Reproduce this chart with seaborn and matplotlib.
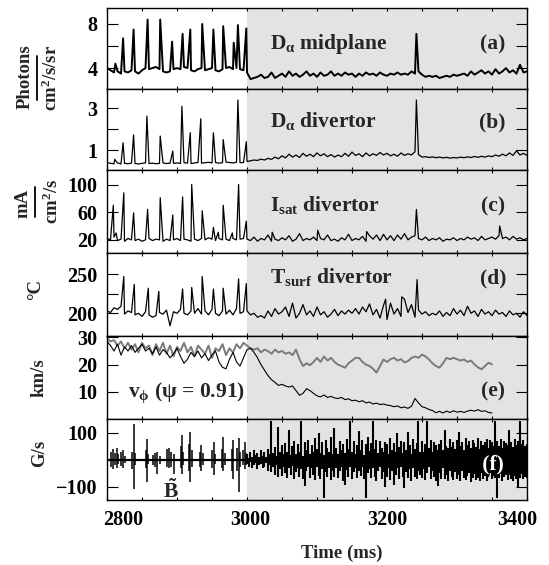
import numpy as np
import pandas as pd
import matplotlib
matplotlib.use('Agg')
import matplotlib.pyplot as plt
import matplotlib.patheffects as pe
from matplotlib.lines import Line2D
from matplotlib.ticker import MultipleLocator
from matplotlib.transforms import ScaledTranslation
import seaborn as sns

# ---- data ----
# baselines sampled every 5 ms, 2800..3400
grid_t = np.arange(2800, 3401, 5)

a_base = [4.0, 3.8, 3.6, 3.7, 3.5, 3.7, 3.6, 3.8, 3.7, 3.5, 3.8, 4.0, 3.9, 4.0, 4.1, 3.9, 3.7, 3.6, 3.7, 3.9,
          4.0, 3.9, 4.1, 4.0, 3.8, 3.7, 3.9, 4.0, 3.8, 3.9, 4.0, 3.8, 3.7, 3.9, 4.0, 4.1, 3.9, 4.0, 3.9, 3.8,
          3.6, 3.0, 3.1, 3.2, 3.4, 3.1, 3.2, 3.6, 3.1, 3.3, 3.5, 3.2, 3.7, 3.3, 3.5, 3.2, 3.4, 3.7, 3.3, 3.5,
          3.2, 3.6, 3.3, 3.4, 3.7, 3.3, 3.5, 3.3, 3.6, 3.4, 3.5, 3.2, 3.5, 3.3, 3.6, 3.4, 3.5, 3.3, 3.6, 3.4,
          3.3, 3.5, 3.4, 3.6, 3.4, 3.5, 3.4, 3.7, 3.5, 3.7, 3.4, 3.2, 3.3, 3.2, 3.3, 3.1, 3.2, 3.3, 3.2, 3.4,
          3.3, 3.4, 3.5, 3.3, 3.7, 3.4, 3.6, 3.8, 3.5, 3.7, 3.4, 3.9, 3.5, 3.7, 4.0, 3.6, 3.8, 3.5, 4.3, 3.6, 3.7]
a_spike_t = [2812, 2823, 2838, 2858, 2876, 2893, 2908, 2919, 2936, 2952, 2966, 2981, 2987, 2999, 3242]
a_spike_v = [4.4, 6.7, 7.5, 8.4, 8.4, 6.4, 7.1, 7.5, 8.0, 7.5, 7.8, 6.3, 7.9, 7.6, 7.1]

b_base = [0.40, 0.36, 0.34, 0.38, 0.33, 0.36, 0.34, 0.37, 0.35, 0.33, 0.36, 0.38, 0.35, 0.37, 0.34, 0.36, 0.38, 0.35, 0.37, 0.36,
          0.38, 0.36, 0.39, 0.37, 0.35, 0.38, 0.40, 0.37, 0.39, 0.41, 0.38, 0.40, 0.37, 0.39, 0.42, 0.40, 0.38, 0.41, 0.39, 0.40,
          0.45, 0.48, 0.52, 0.50, 0.56, 0.52, 0.60, 0.55, 0.66, 0.58, 0.72, 0.62, 0.80, 0.66, 0.76, 0.64, 0.84, 0.70, 0.80, 0.68,
          0.86, 0.72, 0.82, 0.68, 0.78, 0.66, 0.76, 0.68, 0.84, 0.70, 0.90, 0.74, 0.82, 0.68, 0.86, 0.72, 0.82, 0.74, 0.88, 0.76,
          0.84, 0.72, 0.80, 0.70, 0.86, 0.74, 0.82, 0.76, 0.92, 0.78, 0.66, 0.68, 0.64, 0.67, 0.63, 0.66, 0.62, 0.65, 0.61, 0.64,
          0.62, 0.66, 0.63, 0.67, 0.64, 0.69, 0.65, 0.70, 0.66, 0.72, 0.68, 0.76, 0.70, 0.80, 0.72, 0.86, 0.74, 0.96, 0.76, 0.84, 0.74]
b_spike_t = [2811, 2823, 2838, 2857, 2876, 2894, 2907, 2919, 2934, 2952, 2966, 2987, 2999, 3242]
b_spike_v = [0.55, 1.35, 1.72, 2.63, 1.67, 0.95, 3.1, 1.83, 2.5, 1.83, 1.5, 3.4, 1.4, 3.4]

c_base = [22, 20, 24, 19, 21, 18, 22, 20, 19, 21, 18, 20, 22, 19, 21, 20, 18, 21, 19, 20,
          22, 19, 21, 20, 18, 21, 19, 22, 20, 23, 21, 19, 22, 20, 21, 19, 22, 20, 21, 22,
          21, 19, 24, 18, 22, 20, 27, 18, 21, 19, 23, 20, 26, 18, 21, 29, 19, 22, 20, 24,
          19, 22, 20, 27, 19, 21, 18, 23, 20, 28, 19, 22, 20, 25, 18, 26, 21, 27, 19, 28,
          20, 26, 19, 27, 21, 29, 20, 24, 26, 22, 20, 24, 19, 22, 20, 23, 18, 21, 20, 23,
          19, 22, 20, 24, 21, 23, 19, 25, 20, 22, 24, 21, 26, 22, 24, 20, 25, 21, 23, 20, 22]
c_spike_t = [2809, 2813, 2824, 2838, 2858, 2876, 2894, 2908, 2921, 2936, 2952, 2959, 2966, 2979, 2988, 2999,
             3036, 3101, 3171, 3242, 3361]
c_spike_v = [70, 30, 88, 59, 64, 81, 56, 82, 100, 62, 38, 31, 70, 30, 100, 47, 31, 34, 32, 64, 40]

d_base = [203, 201, 207, 205, 209, 199, 203, 201, 198, 200, 196, 202, 198, 195, 197, 201, 199, 204, 184, 202,
          200, 205, 200, 198, 203, 200, 206, 199, 203, 198, 205, 200, 197, 203, 199, 204, 198, 206, 200, 202,
          203, 198, 200, 195, 197, 194, 203, 196, 206, 199, 202, 208, 196, 213, 194, 200, 211, 198, 203, 196,
          208, 198, 202, 195, 199, 205, 197, 203, 199, 204, 200, 206, 199, 208, 202, 212, 198, 205, 194, 210,
          192, 213, 199, 206, 196, 218, 201, 211, 195, 204, 199, 202, 197, 200, 198, 203, 196, 201, 197, 206,
          199, 204, 197, 209, 200, 203, 196, 205, 199, 202, 197, 204, 199, 201, 196, 203, 198, 200, 195, 202, 197]
d_spike_t = [2824, 2839, 2859, 2874, 2908, 2921, 2936, 2952, 2966, 2988, 2999, 3198, 3221, 3243]
d_spike_v = [247, 237, 232, 228, 231, 233, 247, 231, 232, 244, 238, 218, 221, 243]

# rotation v_phi, 5 ms steps 2800..3350
e_t = np.arange(2800, 3351, 5)
e_gray = [29.5, 28.5, 29, 27, 28.5, 26, 28, 25.5, 27.5, 24.5,
          28, 26, 27, 23.5, 27.5, 25, 28, 24, 27, 23,
          26.5, 25, 28, 24.5, 26.5, 23, 27, 25.5, 24, 27,
          22.5, 26, 25, 27.5, 23.5, 26, 24.5, 27.5, 26, 28,
          27, 26, 25.5, 26, 24.5, 25.5, 25, 24, 25.5, 24.5,
          25, 24, 24.5, 23.5, 25.5, 22, 19.5, 20.5, 19.8, 21,
          22.5, 21, 23, 21.5, 22.5, 21, 20, 19.5, 18.9, 20.5,
          21.5, 22.5, 22.5, 21, 20, 19.5, 18.5, 17.1, 19.5, 21.9,
          21, 22, 22.5, 21.5, 22, 20.8, 21.3, 22.5, 23, 22.5,
          23.7, 23, 21.9, 20.5, 19.5, 18.9, 20.5, 22.5, 22, 22.5,
          22, 21.5, 21.9, 21, 21.5, 20.1, 19, 18.3, 19.5, 20.7,
          20.1]
e_black = [28.5, 27, 25, 27.5, 23.5, 26.5, 25, 27, 24.5, 26,
           27.5, 25, 26, 24, 26.5, 23.5, 25.5, 24.5, 22.5, 24,
           26, 23, 20.5, 22, 24.5, 23, 25, 22.5, 24, 21.5,
           23.5, 25, 21, 19, 18.5, 22, 24.5, 21, 19.5, 22.5,
           25.5, 26, 24.5, 22.5, 20, 18, 16, 14.5, 13.5, 12.4,
           12.8, 12.2, 11.8, 12.2, 10.5, 8.8, 9.5, 11.2, 10.5, 9.5,
           8.6, 8.2, 8.9, 8.0, 8.4, 7.8, 7.6, 8.0, 7.2, 7.5,
           6.8, 7.0, 6.4, 6.8, 6.0, 6.3, 5.6, 5.9, 5.4, 5.6,
           5.2, 5.0, 4.6, 4.9, 4.2, 4.5, 4.0, 4.8, 7.6, 6.0,
           4.6, 4.2, 3.6, 3.2, 2.4, 2.9, 2.3, 3.0, 2.5, 3.1,
           2.6, 2.9, 2.5, 3.0, 3.3, 3.0, 3.5, 2.9, 3.1, 2.5,
           2.3]

# B-dot: ELM bursts before 3000 (max / min per burst line)
f_burst_t = [2806, 2809, 2811, 2814, 2816, 2820, 2823, 2825, 2836, 2838, 2840, 2855, 2857, 2859, 2866,
             2869, 2872, 2875, 2886, 2889, 2892, 2895, 2905, 2907, 2909, 2917, 2919, 2921, 2933, 2935,
             2937, 2950, 2953, 2955, 2964, 2966, 2968, 2978, 2980, 2986, 2988, 2990, 2995, 2997, 2999]
f_burst_hi = [30, 40, 25, 44, 20, 28, 36, 15, 30, 133, 25, 35, 78, 20, 18,
              25, 30, 15, 40, 45, 30, 20, 50, 90, 30, 60, 102, 35, 30, 53,
              25, 35, 65, 20, 40, 84, 25, 40, 72, 45, 80, 30, 35, 65, 25]
f_burst_lo = [-25, -35, -20, -31, -15, -22, -30, -12, -35, -107, -20, -30, -83, -15, -20,
              -25, -52, -15, -28, -30, -25, -52, -30, -52, -20, -40, -83, -25, -25, -40,
              -20, -30, -58, -15, -30, -40, -20, -40, -70, -40, -120, -25, -20, -35, -20]
# B-dot after 3000: envelope per 2.5 ms bin
f_t = np.arange(3000, 3400.1, 2.5)
f_hi = [22, 8, 30, 12, 35, 18, 26, 10, 38, 15,
        28, 12, 40, 20, 145, 25, 48, 15, 120, 30,
        55, 20, 62, 28, 112, 18, 50, 70, 22, 58,
        30, 145, 15, 66, 35, 72, 20, 55, 28, 80,
        40, 100, 25, 64, 18, 75, 42, 30, 85, 22,
        118, 45, 20, 70, 35, 60, 25, 78, 40, 145,
        30, 68, 22, 55, 108, 38, 72, 18, 60, 85,
        32, 62, 145, 40, 75, 25, 70, 45, 28, 66,
        58, 20, 80, 35, 62, 30, 98, 48, 70, 25,
        66, 35, 104, 55, 22, 78, 40, 62, 145, 30,
        70, 28, 60, 145, 45, 75, 30, 64, 55, 38,
        60, 72, 35, 110, 50, 42, 78, 48, 66, 40,
        72, 102, 50, 66, 38, 80, 55, 70, 45, 75,
        62, 48, 82, 40, 70, 55, 66, 78, 45, 74,
        65, 50, 145, 68, 52, 76, 44, 70, 62, 55,
        110, 66, 48, 78, 56, 70, 145, 58, 74, 50,
        60]
f_lo = [-15, -28, -10, -32, -18, -12, -36, -20, -14, -30,
        -25, -12, -40, -20, -45, -28, -55, -18, -62, -35,
        -60, -25, -50, -68, -30, -58, -22, -70, -45, -30,
        -62, -35, -72, -98, -40, -25, -66, -30, -58, -75,
        -28, -60, -70, -35, -140, -45, -65, -30, -75, -40,
        -62, -30, -68, -42, -25, -78, -95, -38, -64, -28,
        -70, -45, -30, -66, -40, -60, -25, -72, -142, -48,
        -35, -68, -30, -62, -78, -40, -28, -70, -45, -100,
        -64, -30, -75, -40, -92, -55, -32, -70, -28, -62,
        -104, -45, -66, -35, -80, -30, -62, -72, -40, -58,
        -68, -35, -74, -50, -28, -70, -42, -62, -78, -96,
        -48, -70, -32, -72, -55, -80, -40, -64, -75, -45,
        -70, -55, -78, -42, -66, -74, -60, -48, -82, -66,
        -52, -74, -66, -80, -48, -70, -60, -78, -64, -50,
        -72, -60, -68, -140, -66, -50, -80, -64, -58, -74,
        -55, -70, -78, -60, -72, -100, -66, -52, -70, -62,
        -66]

# ---- style ----
sns.set_style('ticks')
plt.rcParams['font.family'] = ['Liberation Serif', 'DejaVu Serif']
plt.rcParams['font.weight'] = 'bold'
plt.rcParams['mathtext.fontset'] = 'custom'
plt.rcParams['mathtext.rm'] = 'Liberation Serif:bold'
plt.rcParams['mathtext.it'] = 'Liberation Serif:bold'
plt.rcParams['mathtext.bf'] = 'Liberation Serif:bold'
plt.rcParams['axes.edgecolor'] = 'black'
plt.rcParams['xtick.color'] = 'black'
plt.rcParams['ytick.color'] = 'black'

W, H = 549, 565
SHADE = '#e3e3e3'
FS = 14.5     # tick labels
LFS = 13.5    # axis titles
PFS = 15.5    # panel labels


def merge(base, st, sv):
    # baseline samples plus the spike peaks, in time order
    df = pd.concat([pd.DataFrame({'t': grid_t, 'v': base}),
                    pd.DataFrame({'t': st, 'v': sv})])
    return df.sort_values('t')


def box(top, bottom):
    return [107 / W, 1 - bottom / H, 420 / W, (bottom - top) / H]


def fx(x):
    return x / W


def fy(y):
    return 1 - y / H


fig = plt.figure(figsize=(W / 100, H / 100), dpi=100)
edges = [8, 89, 170, 253, 336, 419, 500]
axes = [fig.add_axes(box(edges[i], edges[i + 1])) for i in range(6)]

ylims = [(2.1, 9.45), (0.04, 3.93), (1, 121), (171, 277), (0.1, 30.5), (-149, 151)]
yticks = [[4, 6, 8], [1, 2, 3], [20, 60, 100], [200, 225, 250], [10, 20, 30], [-100, 0, 100]]
ytlabs = [['4', '', '8'], ['1', '', '3'], ['20', '60', '100'], ['200', '', '250'],
          ['10', '20', '30'], ['\u2212100', '', '100']]

for i, ax in enumerate(axes):
    ax.axvspan(3000, 3400, color=SHADE, lw=0, zorder=0)
    ax.set_xlim(2800, 3400)
    ax.set_ylim(*ylims[i])
    ax.set_yticks(yticks[i], labels=ytlabs[i])
    ax.set_xticks([2800, 3000, 3200, 3400])
    ax.xaxis.set_minor_locator(MultipleLocator(50))
    ax.tick_params(axis='x', which='both', direction='in', top=True, bottom=True,
                   length=2.5, width=0.8, labelsize=FS, pad=7)
    ax.tick_params(axis='y', which='both', direction='in', left=True, right=True,
                   length=8, width=0.8, labelsize=FS, pad=7)
    for s in ax.spines.values():
        s.set_linewidth(1.0)
        s.set_visible(True)
    if i < 5:
        ax.tick_params(axis='x', labelbottom=False)

# (a) D-alpha midplane
sns.lineplot(data=merge(a_base, a_spike_t, a_spike_v), x='t', y='v', ax=axes[0],
             estimator=None, sort=True, color='black', lw=1.4)
# (b) D-alpha divertor
sns.lineplot(data=merge(b_base, b_spike_t, b_spike_v), x='t', y='v', ax=axes[1],
             estimator=None, sort=True, color='black', lw=0.9)
# (c) Isat divertor
sns.lineplot(data=merge(c_base, c_spike_t, c_spike_v), x='t', y='v', ax=axes[2],
             estimator=None, sort=True, color='black', lw=0.9)
# (d) Tsurf divertor
sns.lineplot(data=merge(d_base, d_spike_t, d_spike_v), x='t', y='v', ax=axes[3],
             estimator=None, sort=True, color='black', lw=0.9)
# (e) rotation
sns.lineplot(x=e_t, y=e_gray, ax=axes[4], estimator=None, color='#7a7a7a', lw=1.4)
sns.lineplot(x=e_t, y=e_black, ax=axes[4], estimator=None, color='black', lw=0.8)
# (f) B-dot
axf = axes[5]
axf.axhline(0, color='black', lw=1.6, zorder=2)
axf.vlines(f_burst_t, f_burst_lo, f_burst_hi, color='black', lw=1.1, zorder=2)
axf.vlines(f_t, f_lo, f_hi, color='black', lw=1.5, zorder=2)

for ax in axes:
    ax.set_xlabel('')
    ax.set_ylabel('')

# panel annotations
axes[0].text(0.388, 0.49, r'D$_{\alpha}$ midplane', transform=axes[0].transAxes, fontsize=PFS, va='baseline')
axes[0].text(0.948, 0.49, '(a)', transform=axes[0].transAxes, fontsize=PFS, va='baseline', ha='right')
axes[1].text(0.388, 0.53, r'D$_{\alpha}$ divertor', transform=axes[1].transAxes, fontsize=PFS, va='baseline')
axes[1].text(0.948, 0.53, '(b)', transform=axes[1].transAxes, fontsize=PFS, va='baseline', ha='right')
axes[2].text(0.388, 0.50, r'I$_{\mathrm{sat}}$ divertor', transform=axes[2].transAxes, fontsize=PFS, va='baseline')
axes[2].text(0.948, 0.50, '(c)', transform=axes[2].transAxes, fontsize=PFS, va='baseline', ha='right')
axes[3].text(0.388, 0.635, r'T$_{\mathrm{surf}}$ divertor', transform=axes[3].transAxes, fontsize=PFS, va='baseline')
axes[3].text(0.952, 0.635, '(d)', transform=axes[3].transAxes, fontsize=PFS, va='baseline', ha='right')
axes[4].text(0.051, 0.27, r'v$_{\phi}$ ($\psi$ = 0.91)', transform=axes[4].transAxes, fontsize=PFS, va='baseline')
axes[4].text(0.948, 0.27, '(e)', transform=axes[4].transAxes, fontsize=PFS, va='baseline', ha='right')
axf.text(0.945, 0.37, '(f)', transform=axf.transAxes, fontsize=PFS, va='baseline', ha='right',
         color='white', zorder=5,
         path_effects=[pe.Stroke(linewidth=1.5, foreground='black'), pe.Normal()])
axf.text(0.152, 0.03, r'$\tilde{\mathbf{B}}$', transform=axf.transAxes, fontsize=PFS,
         va='baseline', ha='center', zorder=5)

# y-axis labels
fig.text(fx(25), fy(77), 'Photons', rotation=90, ha='center', va='center', fontsize=LFS)
fig.text(fx(51), fy(78), 'cm$^{2}$/s/sr', rotation=90, ha='center', va='center', fontsize=LFS)
fig.add_artist(Line2D([fx(37), fx(37)], [fy(56), fy(100)], color='black', lw=1.3))
fig.text(fx(23), fy(203), 'mA', rotation=90, ha='center', va='center', fontsize=LFS)
fig.text(fx(52), fy(201), 'cm$^{2}$/s', rotation=90, ha='center', va='center', fontsize=LFS)
fig.add_artist(Line2D([fx(35), fx(35)], [fy(187), fy(217)], color='black', lw=1.3))
fig.text(fx(36), fy(290), '\u00b0C', rotation=90, ha='center', va='center', fontsize=LFS)
fig.text(fx(39), fy(378), 'km/s', rotation=90, ha='center', va='center', fontsize=LFS)
fig.text(fx(40), fy(453), 'G/s', rotation=90, ha='center', va='center', fontsize=LFS)
fig.text(fx(342), fy(553), 'Time (ms)', ha='center', va='center', fontsize=LFS)

# end tick labels sit inside the axis span
shifts = [0.16, 0.03, 0.0, -0.10]
for lab, dx in zip(axes[5].get_xticklabels(), shifts):
    lab.set_transform(lab.get_transform() + ScaledTranslation(dx, 0, fig.dpi_scale_trans))

fig.savefig('out.png', dpi=100)
